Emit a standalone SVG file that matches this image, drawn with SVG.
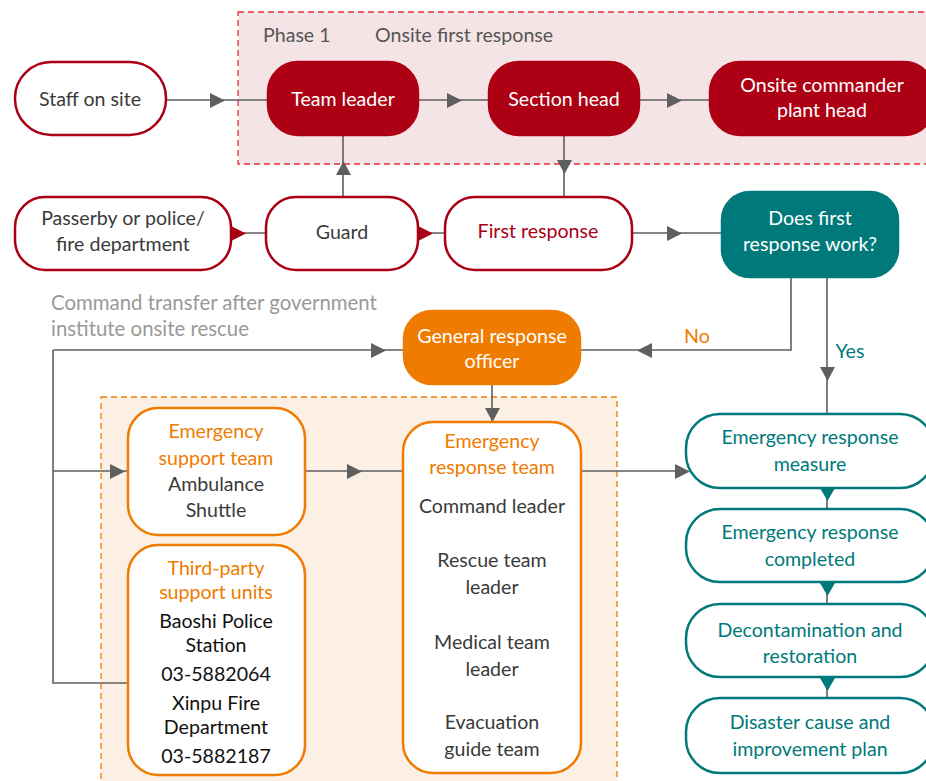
<svg xmlns="http://www.w3.org/2000/svg" width="926" height="781" viewBox="0 0 926 781">
<style>
text{font-family:Lato,"Source Sans Pro","Open Sans",sans-serif;font-size:19.6px;text-anchor:middle}
.rw{fill:#fff;stroke:#aa0015;stroke-width:2.5}
.rf{fill:#ad0014;stroke:#ad0014;stroke-width:2.5}
.tf{fill:#00797b;stroke:#00797b;stroke-width:2.5}
.tw{fill:#fff;stroke:#00797b;stroke-width:2.5}
.of{fill:#ef7b00;stroke:#ef7b00;stroke-width:2.5}
.ow{fill:#fff;stroke:#ef7b00;stroke-width:2.5}
.ln{fill:none;stroke:#5f5f5f;stroke-width:1.6}
.ah{fill:#5f5f5f}
.wt{fill:#fff}
.dk{fill:#3a3a3a}
.rt{fill:#aa0015}
.tt{fill:#00797b}
.ot{fill:#ef7b00}
.bk{fill:#111}
</style>
<rect x="238" y="12" width="700" height="152" fill="#f5e4e5" stroke="#e8303a" stroke-width="1.3" stroke-dasharray="6,4"/>
<text x="263" y="42" class="dk" style="text-anchor:start;fill:#555">Phase 1</text>
<text x="375" y="42" class="dk" style="text-anchor:start;fill:#555">Onsite first response</text>
<rect x="101" y="397" width="516" height="400" fill="#fcefe4" stroke="#ef7b00" stroke-width="1.3" stroke-dasharray="6,4"/>
<text x="51" y="310" style="text-anchor:start;fill:#999;font-size:20.4px">Command transfer after government</text>
<text x="51" y="336" style="text-anchor:start;fill:#999;font-size:20.4px">institute onsite rescue</text>
<g id="connectors">
<path class="ln" d="M166 100H268M418 100H489M639 100H710M343 197V135M564 135V197M231 233H266M418 233H445M632 233H722M791 277V350H580M827 277V414M53 350H404M53 350V683H128M53 471H128M492 384V422M305 471H403M581 471H686M827 488V509M827 582V604M827 677V698"/>
<path class="ah" d="M210 93L225 100.5L210 108ZM447 93L462 100.5L447 108ZM667 93L682 100.5L667 108ZM336 175L343.5 161L351 175ZM557 160L564.5 174L572 160ZM667 226L682 233.5L667 241ZM652 343L637 350.5L652 358ZM820 367L827.5 381L835 367ZM371 343L386 350.5L371 358ZM110 464L125 471.5L110 479ZM485 408L492.5 422L500 408ZM347 464L362 471.5L347 479ZM675 464L690 471.5L675 479Z"/>
<path fill="#aa0015" d="M231 226L246 233.5L231 241ZM418 226L433 233.5L418 241Z"/>
<path fill="#00797b" d="M820 488L827.5 501L835 488ZM820 583L827.5 596L835 583ZM820 678L827.5 691L835 678Z"/>
<text x="697" y="343" class="ot">No</text>
<text x="850" y="358" class="tt">Yes</text>
</g>
<g id="staff"><rect class="rw" x="15" y="62" width="151" height="73" rx="36"/><text x="90" y="106" class="dk">Staff on site</text></g>
<g id="teamleader"><rect class="rf" x="268" y="62" width="150" height="73" rx="30"/><text x="343" y="106" class="wt">Team leader</text></g>
<g id="sectionhead"><rect class="rf" x="489" y="62" width="150" height="73" rx="30"/><text x="564" y="106" class="wt">Section head</text></g>
<g id="commander"><rect class="rf" x="710" y="62" width="224" height="73" rx="30"/><text x="822" y="92" class="wt">Onsite commander</text><text x="822" y="117" class="wt">plant head</text></g>
<g id="passerby"><rect class="rw" x="15" y="197" width="216" height="73" rx="30"/><text x="123" y="225" class="dk">Passerby or police/</text><text x="123" y="251" class="dk">fire department</text></g>
<g id="guard"><rect class="rw" x="266" y="197" width="152" height="73" rx="30"/><text x="342" y="239" class="dk">Guard</text></g>
<g id="firstresponse"><rect class="rw" x="445" y="197" width="187" height="73" rx="30"/><text x="538" y="238" class="rt">First response</text></g>
<g id="decision"><rect class="tf" x="722" y="192" width="176" height="85" rx="28"/><text x="810" y="225" class="wt">Does first</text><text x="810" y="251" class="wt">response work?</text></g>
<g id="gro"><rect class="of" x="404" y="311" width="176" height="73" rx="28"/><text x="492" y="343" class="wt">General response</text><text x="492" y="368" class="wt">officer</text></g>
<g id="support"><rect class="ow" x="128" y="408" width="177" height="127" rx="30"/><text x="216" y="438" class="ot">Emergency</text><text x="216" y="465" class="ot">support team</text><text x="216" y="491" class="dk">Ambulance</text><text x="216" y="517" class="dk">Shuttle</text></g>
<g id="thirdparty"><rect class="ow" x="128" y="545" width="177" height="230" rx="30"/><text x="216" y="575" class="ot">Third-party</text><text x="216" y="599" class="ot">support units</text><text x="216" y="628" class="bk">Baoshi Police</text><text x="216" y="652" class="bk">Station</text><text x="216" y="681" class="bk">03-5882064</text><text x="216" y="710" class="bk">Xinpu Fire</text><text x="216" y="734" class="bk">Department</text><text x="216" y="763" class="bk">03-5882187</text></g>
<g id="ert"><rect class="ow" x="403" y="422" width="178" height="351" rx="30"/><text x="492" y="448" class="ot">Emergency</text><text x="492" y="474" class="ot">response team</text><text x="492" y="513" class="dk">Command leader</text><text x="492" y="567" class="dk">Rescue team</text><text x="492" y="594" class="dk">leader</text><text x="492" y="649" class="dk">Medical team</text><text x="492" y="676" class="dk">leader</text><text x="492" y="729" class="dk">Evacuation</text><text x="492" y="756" class="dk">guide team</text></g>
<g id="measure"><rect class="tw" x="686" y="414" width="248" height="74" rx="34"/><text x="810" y="444" class="tt">Emergency response</text><text x="810" y="471" class="tt">measure</text></g>
<g id="completed"><rect class="tw" x="686" y="509" width="248" height="73" rx="34"/><text x="810" y="539" class="tt">Emergency response</text><text x="810" y="566" class="tt">completed</text></g>
<g id="decon"><rect class="tw" x="686" y="604" width="248" height="73" rx="34"/><text x="810" y="637" class="tt">Decontamination and</text><text x="810" y="663" class="tt">restoration</text></g>
<g id="disaster"><rect class="tw" x="686" y="698" width="248" height="75" rx="34"/><text x="810" y="729" class="tt">Disaster cause and</text><text x="810" y="756" class="tt">improvement plan</text></g>
</svg>
